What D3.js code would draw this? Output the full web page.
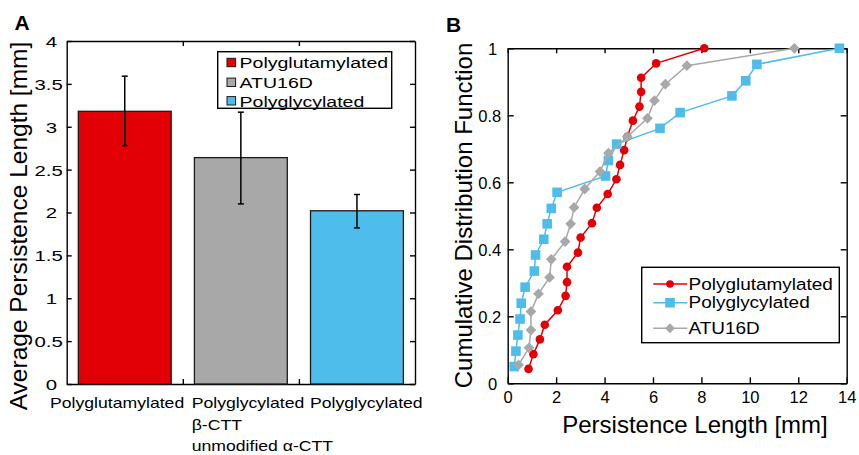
<!DOCTYPE html>
<html lang="en">
  <head>
    <meta charset="UTF-8" />
    <title>Persistence Length</title>
    <style>
      body { margin: 0; background: #fff; }
      svg { display: block; font-family: "Liberation Sans", Arial, sans-serif; }
      .axis path, .axis line { stroke: #000; stroke-width: 1.4; }
      .axis text { fill: #000; }
    </style>
  </head>

  <body>
    <div id="chart"></div>

    <script src="https://cdn.jsdelivr.net/npm/d3@7"></script>
    <script>

      // ---- panel A data (bar chart) ----
      var barNames = ["Polyglutamylated", "ATU16D", "Polyglycylated"];
      var barMeans = [3.18, 2.64, 2.02];
      var barLow = [2.78, 2.10, 1.82];
      var barHigh = [3.59, 3.17, 2.21];
      var barLabels = [["Polyglutamylated"], ["Polyglycylated", "β-CTT", "unmodified α-CTT"], ["Polyglycylated"]];
      var yTicksA = [0, 0.5, 1, 1.5, 2, 2.5, 3, 3.5, 4];

      // ---- panel B data (cumulative distributions) ----
      var gluX = [0.86, 1.06, 1.33, 1.53, 2.07, 2.39, 2.45, 2.45, 2.90, 3.01, 3.48, 3.68, 4.13, 4.49, 4.64, 4.81, 4.94, 5.17, 5.44, 5.51, 5.51, 6.13, 8.12];
      var gluY = [0.043, 0.087, 0.131, 0.175, 0.218, 0.261, 0.302, 0.348, 0.390, 0.435, 0.478, 0.524, 0.565, 0.609, 0.652, 0.696, 0.736, 0.784, 0.826, 0.870, 0.912, 0.955, 1.0];
      var glyX = [0.27, 0.34, 0.42, 0.51, 0.56, 0.72, 1.10, 1.15, 1.49, 1.63, 1.80, 2.04, 4.04, 4.16, 4.50, 6.29, 7.12, 9.26, 9.83, 10.29, 13.70];
      var glyY = [0.050, 0.096, 0.144, 0.192, 0.239, 0.287, 0.335, 0.383, 0.430, 0.476, 0.522, 0.570, 0.619, 0.665, 0.714, 0.761, 0.808, 0.858, 0.903, 0.952, 1.0];
      var atuX = [0.45, 0.88, 0.96, 0.96, 1.27, 1.73, 1.80, 2.37, 2.60, 2.74, 3.18, 3.81, 4.16, 4.94, 5.77, 6.06, 6.51, 7.40, 11.84];
      var atuY = [0.055, 0.106, 0.159, 0.214, 0.267, 0.316, 0.370, 0.423, 0.476, 0.525, 0.580, 0.632, 0.687, 0.736, 0.791, 0.844, 0.893, 0.948, 1.0];
      var xTicksB = [0, 2, 4, 6, 8, 10, 12, 14];
      var yTicksB = [0, 0.2, 0.4, 0.6, 0.8, 1];

      var red = "#e20006",
          gray = "#a8a8a8",
          blue = "#4fbdec";

      var w = 859,
          h = 455;

      var svg = d3.select("#chart").append("svg")
        .attr("width", w)
        .attr("height", h);

      // ================= panel A =================
      var a = { left: 66.7, right: 415, top: 41, bottom: 384 };

      var xA = d3.scaleLinear().domain([0.5, 3.5]).range([a.left, a.right]);
      var yA = d3.scaleLinear().domain([0, 4]).range([a.bottom, a.top]);

      svg.append("g")
         .attr("class", "axis")
         .attr("transform", "translate(" + a.left + ",0)")
         .call(d3.axisLeft(yA).tickValues(yTicksA).tickSizeInner(-5).tickSizeOuter(0).tickFormat(d3.format("")))
         .selectAll("text")
         .attr("x", 0)
         .attr("dy", "0.36em")
         .attr("text-anchor", "middle")
         .style("font-size", "15px")
         .attr("transform", function(d) {
           var cx = Number.isInteger(d) ? 51.3 : 48.7;
           return "translate(" + (cx - a.left) + ",0) scale(1.36,1)";
         });
      svg.append("g")
         .attr("class", "axis")
         .attr("transform", "translate(" + a.right + ",0)")
         .call(d3.axisRight(yA).tickValues(yTicksA).tickSizeInner(-5).tickSizeOuter(0).tickFormat(""));
      svg.append("g")
         .attr("class", "axis")
         .attr("transform", "translate(0," + a.bottom + ")")
         .call(d3.axisBottom(xA).tickValues([1.5, 2.5]).tickSizeInner(-5).tickSizeOuter(0).tickFormat(""));
      svg.append("g")
         .attr("class", "axis")
         .attr("transform", "translate(0," + a.top + ")")
         .call(d3.axisTop(xA).tickValues([1.5, 2.5]).tickSizeInner(-5).tickSizeOuter(0).tickFormat(""));

      var barColors = [red, gray, blue];
      var bw = 0.8;

      svg.selectAll(".bar")
         .data(barMeans)
         .enter()
         .append("rect")
         .attr("class", "bar")
         .attr("x", function(d, i) { return xA(i + 1 - bw / 2); })
         .attr("width", function() { return xA(1 + bw / 2) - xA(1 - bw / 2); })
         .attr("y", function(d) { return yA(d); })
         .attr("height", function(d) { return yA(0) - yA(d); })
         .attr("fill", function(d, i) { return barColors[i]; })
         .attr("stroke", "#1a1a1a")
         .attr("stroke-width", 1.3);

      // error bars
      var eb = svg.selectAll(".err")
         .data(barMeans)
         .enter()
         .append("g")
         .attr("class", "err")
         .attr("stroke", "#000")
         .attr("stroke-width", 1.5);
      eb.append("line")
        .attr("x1", function(d, i) { return xA(i + 1); })
        .attr("x2", function(d, i) { return xA(i + 1); })
        .attr("y1", function(d, i) { return yA(barLow[i]); })
        .attr("y2", function(d, i) { return yA(barHigh[i]); });
      eb.append("line")
        .attr("x1", function(d, i) { return xA(i + 1) - 3; })
        .attr("x2", function(d, i) { return xA(i + 1) + 3; })
        .attr("y1", function(d, i) { return yA(barLow[i]); })
        .attr("y2", function(d, i) { return yA(barLow[i]); });
      eb.append("line")
        .attr("x1", function(d, i) { return xA(i + 1) - 3; })
        .attr("x2", function(d, i) { return xA(i + 1) + 3; })
        .attr("y1", function(d, i) { return yA(barHigh[i]); })
        .attr("y2", function(d, i) { return yA(barHigh[i]); });

      // category labels under the bars
      var labelStart = [50, 191.7, 310];
      var labelBase = [408.3, 430, 451];
      barLabels.forEach(function(lines, i) {
        lines.forEach(function(txt, j) {
          svg.append("text")
             .attr("transform", "translate(" + labelStart[i] + "," + labelBase[j] + ") scale(1.26,1)")
             .style("font-size", "14px")
             .text(txt);
        });
      });

      // legend A
      var legA = svg.append("g");
      legA.append("rect")
          .attr("x", 217.7).attr("y", 51.7)
          .attr("width", 174).attr("height", 56.6)
          .attr("fill", "#fff")
          .attr("stroke", "#000")
          .attr("stroke-width", 1.4);
      var legAOrder = [0, 1, 2];
      var legARow = [62.5, 82.3, 100.8];
      legAOrder.forEach(function(k, r) {
        legA.append("rect")
            .attr("x", 227).attr("y", legARow[r] - 4.2)
            .attr("width", 8.6).attr("height", 8.4)
            .attr("fill", barColors[k])
            .attr("stroke", "#1a1a1a")
            .attr("stroke-width", 1);
        legA.append("text")
            .attr("transform", "translate(239.5," + (legARow[r] + 5.8) + ") scale(1.26,1)")
            .style("font-size", "15.5px")
            .text(barNames[k]);
      });

      svg.append("text")
         .attr("transform", "translate(27,226) rotate(-90)")
         .attr("text-anchor", "middle")
         .style("font-size", "24.5px")
         .text("Average Persistence Length [mm]");

      svg.append("text")
         .attr("x", 14.5).attr("y", 30)
         .style("font-size", "21px")
         .style("font-weight", "bold")
         .text("A");

      // ================= panel B =================
      var b = { left: 507.7, right: 846.7, top: 48.3, bottom: 383.3 };

      var xB = d3.scaleLinear().domain([0, 14]).range([b.left, b.right]);
      var yB = d3.scaleLinear().domain([0, 1]).range([b.bottom, b.top]);

      svg.append("g")
         .attr("class", "axis")
         .attr("transform", "translate(0," + b.bottom + ")")
         .call(d3.axisBottom(xB).tickValues(xTicksB).tickSizeInner(-6).tickSizeOuter(0))
         .selectAll("text")
         .attr("y", 20)
         .attr("dy", 0)
         .style("font-size", "16.5px");
      svg.append("g")
         .attr("class", "axis")
         .attr("transform", "translate(0," + b.top + ")")
         .call(d3.axisTop(xB).tickValues(xTicksB).tickSizeInner(-5).tickSizeOuter(0).tickFormat(""));
      svg.append("g")
         .attr("class", "axis")
         .attr("transform", "translate(" + b.left + ",0)")
         .call(d3.axisLeft(yB).tickValues(yTicksB).tickSizeInner(-6).tickSizeOuter(0).tickFormat(d3.format("")))
         .selectAll("text")
         .attr("text-anchor", "middle")
         .attr("x", function(d) { return (Number.isInteger(d) ? 492.5 : 489.8) - b.left; })
         .attr("dy", "0.36em")
         .style("font-size", "16.5px");
      svg.append("g")
         .attr("class", "axis")
         .attr("transform", "translate(" + b.right + ",0)")
         .call(d3.axisRight(yB).tickValues(yTicksB).tickSizeInner(-6).tickSizeOuter(0).tickFormat(""));

      var line = d3.line()
                   .x(function(d) { return xB(d[0]); })
                   .y(function(d) { return yB(d[1]); });

      var diamond = d3.symbol().type(d3.symbolDiamond2);

      function drawSeries(xs, ys, color, kind) {
        var pts = xs.map(function(x, i) { return [x, ys[i]]; });
        var g = svg.append("g");
        g.append("path")
         .datum(pts)
         .attr("d", line)
         .attr("fill", "none")
         .attr("stroke", color)
         .attr("stroke-width", 1.5);
        if (kind == "circle") {
          g.selectAll("circle")
           .data(pts)
           .enter()
           .append("circle")
           .attr("cx", function(d) { return xB(d[0]); })
           .attr("cy", function(d) { return yB(d[1]); })
           .attr("r", 4.3)
           .attr("fill", color);
        } else if (kind == "square") {
          g.selectAll("rect")
           .data(pts)
           .enter()
           .append("rect")
           .attr("x", function(d) { return xB(d[0]) - 4.8; })
           .attr("y", function(d) { return yB(d[1]) - 4.8; })
           .attr("width", 9.6)
           .attr("height", 9.6)
           .attr("fill", color);
        } else {
          g.selectAll("path.mk")
           .data(pts)
           .enter()
           .append("path")
           .attr("class", "mk")
           .attr("d", diamond.size(74))
           .attr("transform", function(d) { return "translate(" + xB(d[0]) + "," + yB(d[1]) + ")"; })
           .attr("fill", color);
        }
      }

      drawSeries(gluX, gluY, red, "circle");
      drawSeries(glyX, glyY, blue, "square");
      drawSeries(atuX, atuY, gray, "diamond");

      // legend B
      var legB = svg.append("g");
      legB.append("rect")
          .attr("x", 641.7).attr("y", 267.3)
          .attr("width", 197.6).attr("height", 75.4)
          .attr("fill", "#fff")
          .attr("stroke", "#000")
          .attr("stroke-width", 1.4);
      var legBItems = [
        { name: "Polyglutamylated", color: red, kind: "circle" },
        { name: "Polyglycylated", color: blue, kind: "square" },
        { name: "ATU16D", color: gray, kind: "diamond" }
      ];
      var legBRow = [284, 302.7, 328.3];
      legBItems.forEach(function(it, r) {
        var yy = legBRow[r];
        legB.append("line")
            .attr("x1", 653.3).attr("x2", 687.3)
            .attr("y1", yy).attr("y2", yy)
            .attr("stroke", it.color)
            .attr("stroke-width", 1.5);
        if (it.kind == "circle") {
          legB.append("circle").attr("cx", 670).attr("cy", yy).attr("r", 3.8).attr("fill", it.color);
        } else if (it.kind == "square") {
          legB.append("rect").attr("x", 665.2).attr("y", yy - 4.8).attr("width", 9.6).attr("height", 9.6).attr("fill", it.color);
        } else {
          legB.append("path").attr("d", diamond.size(62)).attr("transform", "translate(670," + yy + ")").attr("fill", it.color);
        }
        legB.append("text")
            .attr("transform", "translate(688.5," + (yy + 5.6) + ") scale(1.15,1)")
            .style("font-size", "16.5px")
            .text(it.name);
      });

      svg.append("text")
         .attr("x", 695).attr("y", 432.7)
         .attr("text-anchor", "middle")
         .style("font-size", "24px")
         .text("Persistence Length [mm]");

      svg.append("text")
         .attr("transform", "translate(472,215.5) rotate(-90)")
         .attr("text-anchor", "middle")
         .style("font-size", "24px")
         .text("Cumulative Distribution Function");

      svg.append("text")
         .attr("x", 446).attr("y", 31.7)
         .style("font-size", "21px")
         .style("font-weight", "bold")
         .text("B");

    </script>
  </body>
</html>
